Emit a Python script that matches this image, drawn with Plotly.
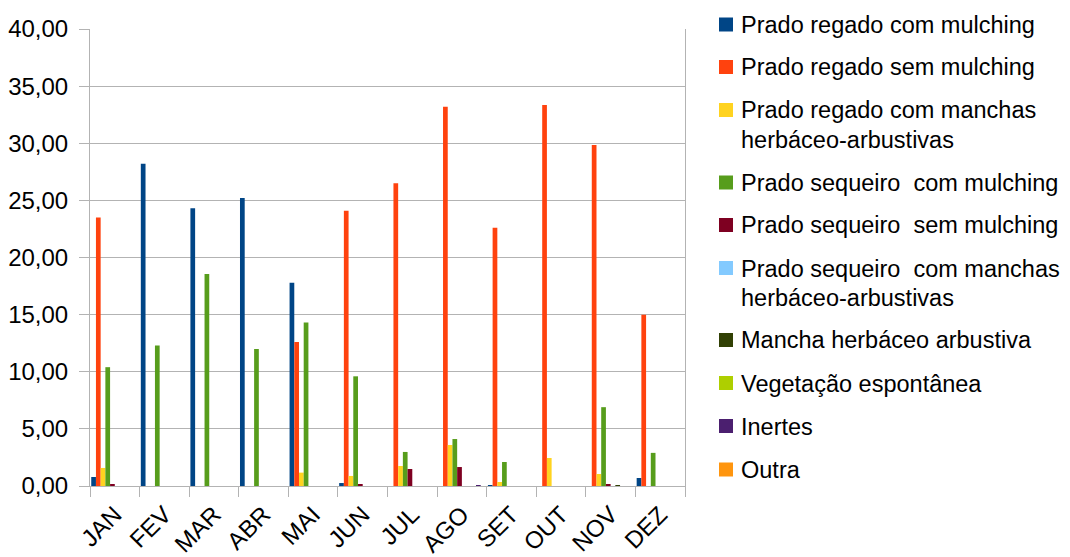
import plotly.graph_objects as go

months = ["JAN", "FEV", "MAR", "ABR", "MAI", "JUN", "JUL", "AGO", "SET", "OUT", "NOV", "DEZ"]

series_names = [
    "Prado regado com mulching",
    "Prado regado sem mulching",
    "Prado regado com manchas<br>herbáceo-arbustivas",
    "Prado sequeiro  com mulching",
    "Prado sequeiro  sem mulching",
    "Prado sequeiro  com manchas<br>herbáceo-arbustivas",
    "Mancha herbáceo arbustiva",
    "Vegetação espontânea",
    "Inertes",
    "Outra",
]

regado_com_mulching = [0.79, 28.2, 24.3, 25.2, 17.8, 0.26, 0, 0, 0.05, 0, 0, 0.70]
regado_sem_mulching = [23.5, 0, 0, 0, 12.6, 24.1, 26.5, 33.2, 22.6, 33.35, 29.85, 15.0]
regado_com_manchas = [1.58, 0, 0, 0, 1.17, 0.88, 1.75, 3.59, 0.35, 2.45, 1.05, 0]
sequeiro_com_mulching = [10.4, 12.3, 18.55, 12.0, 14.3, 9.6, 2.98, 4.11, 2.1, 0, 6.9, 2.9]
sequeiro_sem_mulching = [0.1, 0, 0, 0, 0, 0.1, 1.49, 1.66, 0, 0, 0.1, 0]
sequeiro_com_manchas = [0, 0, 0, 0, 0, 0, 0, 0, 0, 0, 0, 0]
mancha_herbaceo = [0, 0, 0, 0, 0, 0, 0, 0, 0, 0, 0.05, 0]
vegetacao_espontanea = [0, 0, 0, 0, 0, 0, 0, 0, 0, 0, 0, 0]
inertes = [0, 0, 0, 0, 0, 0, 0, 0.05, 0, 0, 0, 0]
outra = [0, 0, 0, 0, 0, 0, 0, 0, 0, 0, 0, 0]

all_values = [regado_com_mulching, regado_sem_mulching, regado_com_manchas,
              sequeiro_com_mulching, sequeiro_sem_mulching, sequeiro_com_manchas,
              mancha_herbaceo, vegetacao_espontanea, inertes, outra]

colors = ["#004586", "#ff420e", "#ffd320", "#579d1c", "#7e0021",
          "#83caff", "#314004", "#aecf00", "#4b1f6f", "#ff950e"]

# page has an 8px body margin; figure sized so it ends at the window edge
OFF = 8
W, H = 1070 - OFF, 557 - OFF
# plot area in screen pixels (reference)
PL, PR, PT, PB = 90, 685, 29, 486

def px_x(px):
    return (px - PL) / (PR - PL)

def px_y(py):
    return (PB - py) / (PB - PT)

fig = go.Figure()
for name, vals, c in zip(series_names, all_values, colors):
    fig.add_trace(go.Bar(x=months, y=vals, name=name.replace("<br>", " "),
                         marker=dict(color=c, line=dict(width=0)), showlegend=False))

FONT = "Liberation Sans, Arial, sans-serif"

# manual legend (centers of first line in screen px)
item_y = [24.5, 67, 110, 182.5, 225, 268, 340, 383, 426, 469.5]
LINE2 = 29.5
shapes = []
annotations = []
for name, c, yc in zip(series_names, colors, item_y):
    shapes.append(dict(type="rect", xref="paper", yref="paper",
                       x0=px_x(719), x1=px_x(733), y0=px_y(yc + 7), y1=px_y(yc - 7),
                       fillcolor=c, line=dict(width=0)))
    for k, line in enumerate(name.split("<br>")):
        annotations.append(dict(text=line, xref="paper", yref="paper",
                                x=px_x(739), y=px_y(yc + k * LINE2 + 0.5),
                                xanchor="left", yanchor="middle", showarrow=False,
                                font=dict(family=FONT, size=23.5, color="#000000")))

fig.update_layout(
    width=W, height=H,
    margin=dict(l=PL - OFF, r=W - (PR - OFF), t=PT - OFF, b=H - (PB - OFF), pad=0),
    paper_bgcolor="white", plot_bgcolor="white",
    barmode="group", bargap=0.05, bargroupgap=0,
    separators=",.",
    showlegend=False,
    font=dict(family=FONT, size=24, color="#000000"),
    shapes=shapes, annotations=annotations,
    xaxis=dict(type="category", tickson="boundaries", ticks="outside", ticklen=10,
               tickcolor="#b3b3b3", showline=True, linecolor="#b3b3b3", linewidth=1,
               tickangle=-45, tickfont=dict(family=FONT, size=24, color="#000000"),
               showgrid=False, mirror=False, automargin=False, ticklabelstandoff=4),
    yaxis=dict(range=[0, 40], dtick=5, tickformat=".2f", ticks="outside", ticklen=10,
               tickcolor="#b3b3b3", showline=True, linecolor="#b3b3b3", linewidth=1,
               mirror=True, showgrid=True, gridcolor="#b3b3b3", gridwidth=1,
               zeroline=False, automargin=False, ticklabelstandoff=6,
               tickfont=dict(family=FONT, size=24, color="#000000")),
)

fig.write_html("out.html")
